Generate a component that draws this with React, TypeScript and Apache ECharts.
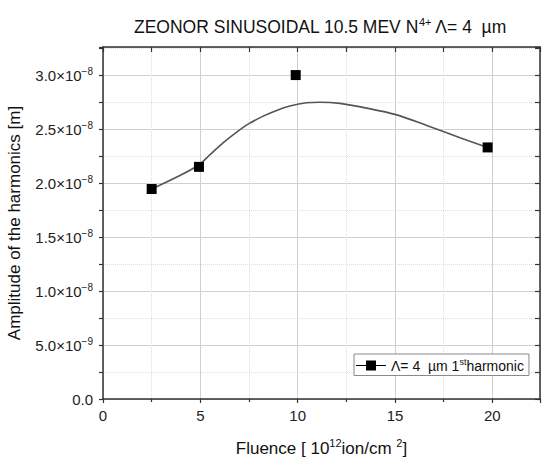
import React, { useEffect, useRef } from "react";
import * as echarts from "echarts";

const markerFluence = [2.5, 4.93, 9.9, 19.76];
const markerAmplitude = [1.945e-8, 2.15e-8, 3.0e-8, 2.33e-8];

const curveFluence = [2.5, 3.95, 4.9, 5.5, 6.18, 6.87, 7.5, 8.23, 8.92, 9.6, 10.46, 11.15, 12.17, 13.54, 15.0, 16.63, 18.34, 19.76];
const curveAmplitude = [1.945e-8, 2.07e-8, 2.165e-8, 2.263e-8, 2.374e-8, 2.472e-8, 2.55e-8, 2.62e-8, 2.673e-8, 2.713e-8, 2.744e-8, 2.749e-8, 2.738e-8, 2.694e-8, 2.636e-8, 2.534e-8, 2.42e-8, 2.33e-8];

const xMin = 0;
const xMax = 22.45;
const xStep = 5;
const yMin = 0;
const yMax = 3.26e-8;
const yStep = 5e-9;

const FONT = "'Liberation Sans', Arial, sans-serif";

function sciLabel(v: number): string {
  if (Math.abs(v) < 1e-20) return "{m|0.0}";
  const exp = Math.floor(Math.log10(Math.abs(v)) + 1e-9);
  const mant = (v / Math.pow(10, exp)).toFixed(1);
  return `{m|${mant}×10}{sup|−${Math.abs(exp)}}`;
}

export default function App() {
  const ref = useRef<HTMLDivElement>(null);
  useEffect(() => {
    document.body.style.margin = "0";
    if (!ref.current) return;
    const chart = echarts.init(ref.current, undefined, { renderer: "svg" });
    const axisColor = "#333";
    chart.setOption({
      animation: false,
      backgroundColor: "#fff",
      title: {
        text: "{a|ZEONOR SINUSOIDAL 10.5 MEV N}{s|4+}{a| Λ= 4  µm}",
        left: 129,
        top: 11,
        textStyle: {
          fontWeight: "normal",
          rich: {
            a: { fontSize: 17.5, lineHeight: 22, color: "#111", fontFamily: FONT, fontWeight: "normal" },
            s: { fontSize: 11, lineHeight: 11, color: "#111", fontFamily: FONT, fontWeight: "normal", verticalAlign: "top" },
          },
        },
      },
      grid: { left: 103, right: 10, top: 47, bottom: 72, containLabel: false, outerBoundsMode: "none" },
      legend: {
        data: [{ name: "harm", icon: "path://M0,4.4 H30 V5.6 H0 Z M10,0 H20 V10 H10 Z" }],
        left: 354,
        top: 354,
        itemWidth: 30,
        itemHeight: 10,
        padding: [3, 5, 3, 2],
        borderColor: "#8a8a8a",
        borderWidth: 1,
        borderRadius: 0,
        backgroundColor: "#fff",
        formatter: () => "{a|Λ= 4  µm 1}{s|st}{a|harmonic}",
        textStyle: {
          rich: {
            a: { fontSize: 14, lineHeight: 17, color: "#111", fontFamily: FONT },
            s: { fontSize: 9, lineHeight: 9, color: "#111", fontFamily: FONT, verticalAlign: "top" },
          },
        },
      },
      xAxis: [
        {
          type: "value",
          position: "bottom",
          min: xMin,
          max: xMax,
          interval: xStep,
          name: "{a|Fluence [ 10}{s|12}{a|ion/cm }{s|2}{a|]}",
          nameLocation: "middle",
          nameGap: 38,
          nameTextStyle: {
            rich: {
              a: { fontSize: 17, lineHeight: 22, color: "#111", fontFamily: FONT },
              s: { fontSize: 11, lineHeight: 11, color: "#111", fontFamily: FONT, verticalAlign: "top" },
            },
          },
          axisLine: { show: true, onZero: false, lineStyle: { color: axisColor, width: 1.5 } },
          axisTick: { show: true, inside: false, length: 4, lineStyle: { color: axisColor, width: 1.2 } },
          minorTick: { show: true, splitNumber: 2, length: 3, lineStyle: { color: axisColor, width: 1.2 } },
          splitLine: { show: true, lineStyle: { color: "#cfcfcf", width: 1 } },
          minorSplitLine: { show: true, lineStyle: { color: "#dedede", width: 1, type: "dotted" } },
          axisLabel: { fontSize: 15, color: "#222", fontFamily: FONT, margin: 9, showMaxLabel: false },
        },
        {
          type: "value",
          position: "top",
          min: xMin,
          max: xMax,
          interval: xStep,
          axisLine: { show: true, onZero: false, lineStyle: { color: axisColor, width: 1.5 } },
          axisTick: { show: true, inside: true, length: 5, lineStyle: { color: axisColor, width: 1.2 } },
          minorTick: { show: true, splitNumber: 2, length: 5, lineStyle: { color: axisColor, width: 1.2 } },
          splitLine: { show: false },
          axisLabel: { show: false },
        },
      ],
      yAxis: [
        {
          type: "value",
          position: "left",
          min: yMin,
          max: yMax,
          interval: yStep,
          name: "Amplitude of the harmonics [m]",
          nameLocation: "middle",
          nameGap: 80,
          nameTextStyle: { fontSize: 17, color: "#111", fontFamily: FONT },
          axisLine: { show: true, onZero: false, lineStyle: { color: axisColor, width: 1.5 } },
          axisTick: { show: true, inside: false, length: 4, lineStyle: { color: axisColor, width: 1.2 } },
          minorTick: { show: true, splitNumber: 2, length: 4, lineStyle: { color: axisColor, width: 1.2 } },
          splitLine: { show: true, lineStyle: { color: "#cfcfcf", width: 1 } },
          minorSplitLine: { show: true, lineStyle: { color: "#dedede", width: 1, type: "dotted" } },
          axisLabel: {
            margin: 10,
            fontSize: 15,
            fontFamily: FONT,
            color: "#222",
            showMaxLabel: false,
            formatter: (v: number) => sciLabel(v),
            rich: {
              m: { fontSize: 15, lineHeight: 18, color: "#222", fontFamily: FONT },
              sup: { fontSize: 10, lineHeight: 10, color: "#222", fontFamily: FONT, verticalAlign: "top" },
            },
          },
        },
        {
          type: "value",
          position: "right",
          min: yMin,
          max: yMax,
          interval: yStep,
          axisLine: { show: true, onZero: false, lineStyle: { color: axisColor, width: 1.5 } },
          axisTick: { show: true, inside: true, length: 5, lineStyle: { color: axisColor, width: 1.2 } },
          minorTick: { show: true, splitNumber: 2, length: 5, lineStyle: { color: axisColor, width: 1.2 } },
          splitLine: { show: false },
          axisLabel: { show: false },
        },
      ],
      series: [
        {
          name: "fit",
          type: "line",
          xAxisIndex: 0,
          yAxisIndex: 0,
          data: curveFluence.map((x, i) => [x, curveAmplitude[i]]),
          smooth: 0.3,
          showSymbol: false,
          symbol: "none",
          lineStyle: { color: "#555", width: 1.6 },
          z: 2,
        },
        {
          name: "harm",
          type: "scatter",
          xAxisIndex: 0,
          yAxisIndex: 0,
          data: markerFluence.map((x, i) => [x, markerAmplitude[i]]),
          symbol: "rect",
          symbolSize: 10,
          itemStyle: { color: "#000", opacity: 1 },
          z: 3,
        },
      ],
    });
    return () => chart.dispose();
  }, []);
  return <div ref={ref} style={{ width: 550, height: 471 }} />;
}
